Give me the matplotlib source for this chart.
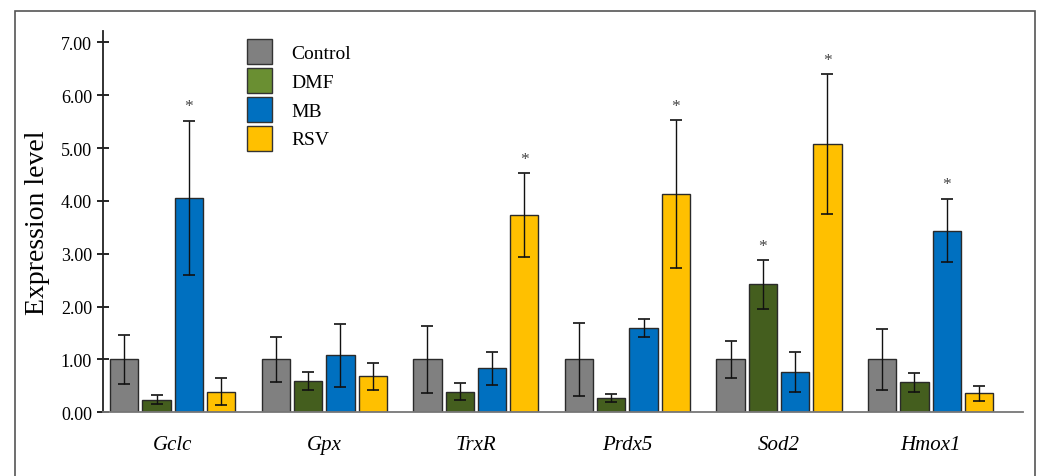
import matplotlib.pyplot as plt
import numpy as np
from matplotlib.patches import Patch, Rectangle

plt.rcParams['font.family'] = ['Liberation Serif', 'DejaVu Serif']

genes = ["Gclc", "Gpx", "TrxR", "Prdx5", "Sod2", "Hmox1"]
groups = ["Control", "DMF", "MB", "RSV"]

# mean expression per group (rows) and gene (columns)
control = [1.00, 1.00, 1.00, 1.00, 1.00, 1.00]
dmf = [0.24, 0.59, 0.39, 0.27, 2.42, 0.57]
mb = [4.06, 1.08, 0.83, 1.60, 0.76, 3.44]
rsv = [0.39, 0.68, 3.73, 4.13, 5.08, 0.36]

# error (half range of bar)
control_err = [0.46, 0.42, 0.63, 0.69, 0.35, 0.58]
dmf_err = [0.08, 0.17, 0.16, 0.08, 0.46, 0.18]
mb_err = [1.46, 0.60, 0.31, 0.17, 0.38, 0.60]
rsv_err = [0.26, 0.26, 0.80, 1.40, 1.32, 0.14]

# which bars carry a significance star
stars = {"DMF": [4], "MB": [0, 5], "RSV": [2, 3, 4]}

bar_colors = ["#808080", "#445E1E", "#0070C0", "#FFC000"]
legend_colors = ["#808080", "#6A8F32", "#0070C0", "#FFC000"]

means = [control, dmf, mb, rsv]
errs = [control_err, dmf_err, mb_err, rsv_err]

fig = plt.figure(figsize=(10.38, 4.77), dpi=100)
# outer frame
fig.patches.append(Rectangle((15 / 1038, -0.1), 1020 / 1038, 1.1 - 12 / 477,
                             transform=fig.transFigure, fill=False,
                             edgecolor="#555555", lw=1.2))

ax = fig.add_axes([103 / 1038, 1 - 413.3 / 477, 920 / 1038, 381 / 477])
x = np.arange(len(genes))
slot = 0.213
width = 0.187
for i, name in enumerate(groups):
    pos = x + (i - 1.5) * slot
    ax.bar(pos, means[i], width, color=bar_colors[i], edgecolor="#2a2a2a",
           lw=1, zorder=2)
    ax.errorbar(pos, means[i], yerr=errs[i], fmt="none", ecolor="#111111",
                elinewidth=1, capsize=4, capthick=1.2, zorder=3)
    for j in stars.get(name, []):
        ax.text(pos[j], means[i][j] + errs[i][j] + 0.12, "*", ha="center",
                va="bottom", fontsize=12.5, color="#444444")

ax.set_xlim(-0.46, 5.61)
ax.set_ylim(0, 7.21)
ax.set_yticks(np.arange(0, 8, 1))
ax.set_yticklabels([f"{v:.2f}" for v in range(8)], fontsize=13)
ax.set_xticks(x)
ax.set_xticklabels(genes, fontsize=15, style="italic")
ax.tick_params(axis="x", length=0, pad=16)
ax.tick_params(axis="y", direction="inout", length=8, width=1.2, pad=4)
for s in ["top", "right"]:
    ax.spines[s].set_visible(False)
ax.spines["left"].set_linewidth(1.3)
ax.spines["left"].set_color("#222222")
ax.spines["bottom"].set_color("#777777")
ax.spines["bottom"].set_linewidth(1.3)
ax.set_ylabel("Expression level", fontsize=20, labelpad=8)

handles = [Patch(facecolor=c, edgecolor="#333333", lw=1) for c in legend_colors]
ax.legend(handles, groups, loc="upper left", bbox_to_anchor=(0.156, 0.98),
          frameon=False, fontsize=14, handlelength=1.3, handleheight=1.6,
          labelspacing=0.2, handletextpad=1.0, borderaxespad=0, borderpad=0)

fig.savefig("out.png", dpi=100)
